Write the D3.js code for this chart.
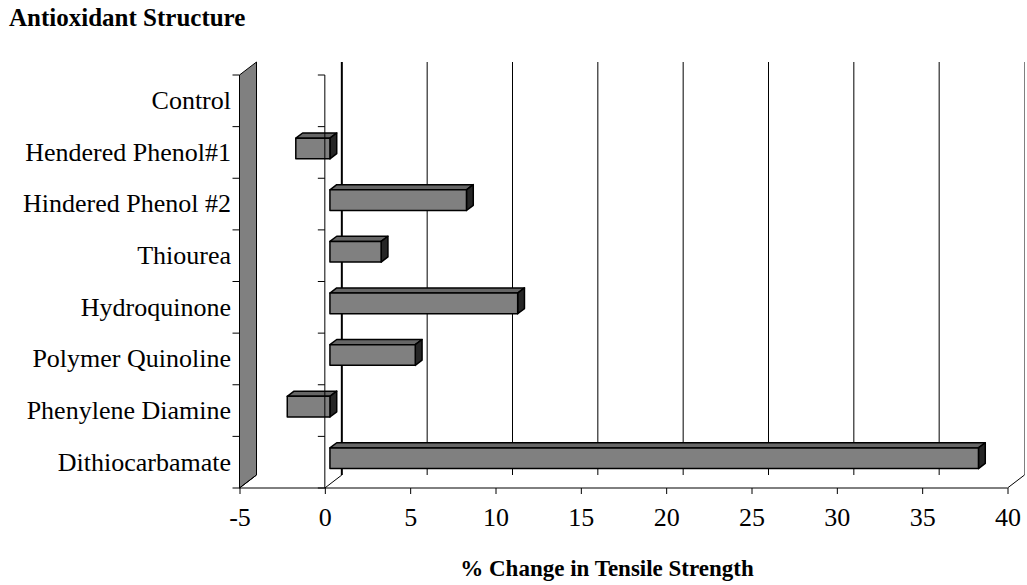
<!DOCTYPE html>
<html>
<head>
<meta charset="utf-8">
<script src="https://cdn.jsdelivr.net/npm/d3@7"></script>
<style>
  body { margin: 0; background: #fff; }
  svg { display: block; font-family: "Liberation Serif", "Times New Roman", serif; }
</style>
</head>
<body>
<svg id="chart" width="1027" height="585"></svg>
<script>
// chart values
var categories = ["Control", "Hendered Phenol#1", "Hindered Phenol #2", "Thiourea",
                  "Hydroquinone", "Polymer Quinoline", "Phenylene Diamine", "Dithiocarbamate"];
var values = [0, -2, 8, 3, 11, 5, -2.5, 38];
var xTicks = [-5, 0, 5, 10, 15, 20, 25, 30, 35, 40];

var svg = d3.select("#chart");

// front plane and the oblique offset to the back wall
var DX = 17, DY = -13;
var barFront = 0.3, barBack = 0.7;   // bar depth as a fraction of the floor depth

var x = d3.scaleLinear().domain([-5, 40]).range([239.5, 1007.5]);
var y = d3.scaleBand().domain(categories).range([75, 488]);

var yTop = y.range()[0], yBottom = y.range()[1];

// back wall gridlines
svg.append("g")
    .selectAll("line")
    .data(xTicks.slice(1))
    .enter()
    .append("line")
    .attr("x1", function(d){ return x(d) + DX; })
    .attr("x2", function(d){ return x(d) + DX; })
    .attr("y1", yTop + DY)
    .attr("y2", yBottom + DY)
    .style("stroke", function(d){ return d == 40 ? "#808080" : "#000"; })
    .style("stroke-width", function(d){ return d == 0 ? 2 : 1; });

// left wall
var x0 = x(-5);
svg.append("path")
    .attr("d", "M" + x0 + "," + yTop + "L" + (x0 + DX) + "," + (yTop + DY) +
               "L" + (x0 + DX) + "," + (yBottom + DY) + "L" + x0 + "," + yBottom + "Z")
    .style("fill", "#808080")
    .style("stroke", "#000")
    .style("stroke-width", 1);

// floor edges
[-5, 0, 40].forEach(function(v){
    svg.append("line")
        .attr("x1", x(v)).attr("y1", yBottom)
        .attr("x2", x(v) + DX).attr("y2", yBottom + DY)
        .style("stroke", "#000").style("stroke-width", 1);
});

// 3D bars
function pt(v, yy, f) {
    return [x(v) + DX * f, yy + DY * f];
}
function poly(pts) {
    return "M" + pts.map(function(p){ return p[0] + "," + p[1]; }).join("L") + "Z";
}

var bars = svg.append("g");
categories.forEach(function(c, i){
    var v = values[i];
    if (v == 0) return;
    var lo = Math.min(0, v), hi = Math.max(0, v);
    var h = y.bandwidth() * 0.4;
    var y1 = y(c) + (y.bandwidth() - h) / 2, y2 = y1 + h;
    var g = bars.append("g")
        .style("stroke", "#000")
        .style("stroke-width", 1.5)
        .style("stroke-linejoin", "round");
    // top face
    g.append("path")
        .attr("d", poly([pt(lo, y1, barFront), pt(hi, y1, barFront), pt(hi, y1, barBack), pt(lo, y1, barBack)]))
        .style("fill", "#666666");
    // right end face
    g.append("path")
        .attr("d", poly([pt(hi, y1, barFront), pt(hi, y1, barBack), pt(hi, y2, barBack), pt(hi, y2, barFront)]))
        .style("fill", "#262626");
    // front face
    g.append("path")
        .attr("d", poly([pt(lo, y1, barFront), pt(hi, y1, barFront), pt(hi, y2, barFront), pt(lo, y2, barFront)]))
        .style("fill", "#808080");
});

// category axis lines (wall edge and value 0) with ticks at band edges
var edges = categories.map(function(c){ return y(c); }).concat([yBottom]);
[-5, 0].forEach(function(v){
    var ax = svg.append("g");
    ax.append("line")
        .attr("x1", x(v)).attr("x2", x(v))
        .attr("y1", yTop).attr("y2", yBottom)
        .style("stroke", "#000").style("stroke-width", 1);
    ax.selectAll(".tk")
        .data(edges)
        .enter()
        .append("line")
        .attr("x1", x(v) - 7).attr("x2", x(v))
        .attr("y1", function(d){ return d; })
        .attr("y2", function(d){ return d; })
        .style("stroke", "#000").style("stroke-width", 1);
});

// category labels
var yAxis = d3.axisLeft(y).tickSize(0).tickPadding(0);
var gy = svg.append("g")
    .attr("transform", "translate(231,0)")
    .call(yAxis);
gy.select(".domain").remove();
gy.selectAll("text")
    .style("font-family", "'Liberation Serif', 'Times New Roman', serif")
    .style("font-size", "26px")
    .attr("fill", "#000");

// value axis along the front floor edge
var xAxis = d3.axisBottom(x).tickValues(xTicks).tickSize(6).tickPadding(14)
    .tickFormat(function(d){ return String(d); });
var gx = svg.append("g")
    .attr("transform", "translate(0," + yBottom + ")")
    .call(xAxis);
gx.select(".domain").attr("d", "M" + x(-5) + ",0H" + x(40)).style("stroke", "#000");
gx.selectAll("text")
    .style("font-family", "'Liberation Serif', 'Times New Roman', serif")
    .style("font-size", "26px")
    .attr("fill", "#000");

// titles
svg.append("text")
    .attr("x", 9)
    .attr("y", 26)
    .style("font-weight", "bold")
    .style("font-size", "25px")
    .text("Antioxidant Structure");

svg.append("text")
    .attr("x", 607)
    .attr("y", 576)
    .attr("text-anchor", "middle")
    .style("font-weight", "bold")
    .style("font-size", "23px")
    .text("% Change in Tensile Strength");
</script>
</body>
</html>
